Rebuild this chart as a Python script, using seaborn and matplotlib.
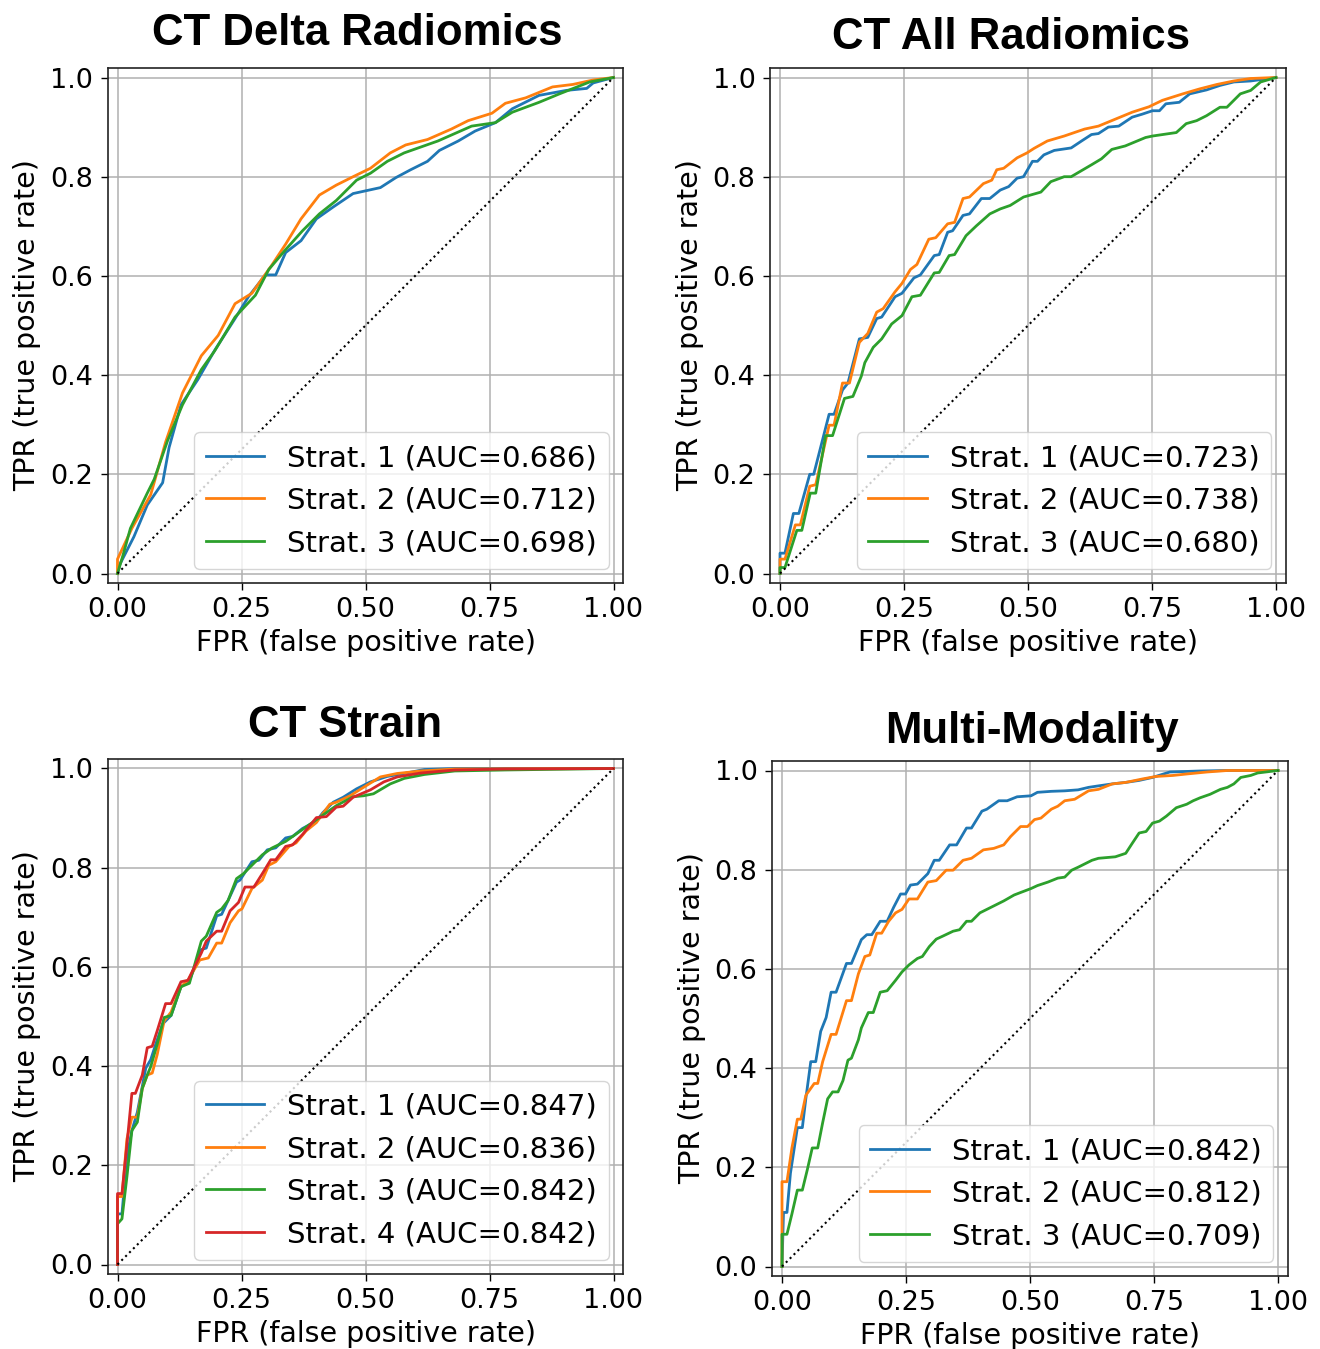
import numpy as np
import pandas as pd
import matplotlib
matplotlib.use('Agg')
import matplotlib.pyplot as plt
import seaborn as sns

# ---- data ----
delta_fpr_1 = [0, .005, .033, .060, .091, .104, .128, .162, .196, .237, .264, .298, .319, .339, .370, .401, .435, .475, .530, .561, .591, .625, .649, .687, .721, .762, .796, .850, .905, .946, .959, 1]
delta_tpr_1 = [0, .019, .074, .138, .183, .254, .340, .391, .450, .514, .558, .602, .602, .647, .671, .715, .739, .766, .778, .798, .814, .831, .853, .872, .892, .909, .937, .964, .974, .978, .989, 1]
delta_fpr_2 = [0, 0, .029, .067, .097, .131, .169, .203, .237, .271, .312, .339, .370, .407, .441, .475, .510, .550, .581, .625, .673, .707, .755, .782, .823, .877, .918, .959, 1]
delta_tpr_2 = [0, .029, .091, .159, .265, .364, .439, .480, .544, .565, .623, .664, .715, .763, .783, .800, .817, .848, .864, .875, .896, .913, .928, .948, .959, .981, .986, .995, 1]
delta_fpr_3 = [0, .012, .026, .060, .074, .101, .131, .169, .196, .237, .278, .305, .339, .373, .407, .441, .482, .510, .544, .578, .646, .714, .762, .796, .850, .891, .952, 1]
delta_tpr_3 = [0, .040, .091, .162, .190, .268, .340, .411, .449, .517, .561, .613, .653, .691, .725, .752, .793, .807, .831, .848, .872, .902, .909, .930, .950, .967, .991, 1]
delta_auc = [0.686, 0.712, 0.698]

all_fpr_1 = [0, 0, .010, .027, .038, .060, .068, .099, .109, .126, .137, .160, .177, .195, .205, .232, .246, .270, .283, .311, .321, .338, .348, .369, .382, .406, .423, .444, .461, .478, .491, .509, .519, .532, .553, .587, .608, .628, .642, .662, .683, .710, .730, .751, .765, .778, .805, .826, .860, .887, .915, .949, 1]
all_tpr_1 = [0, .041, .041, .121, .121, .200, .200, .321, .321, .370, .384, .473, .476, .514, .517, .558, .565, .596, .602, .641, .643, .688, .691, .722, .725, .756, .756, .773, .780, .797, .800, .831, .831, .844, .853, .858, .872, .885, .887, .900, .902, .920, .926, .933, .933, .947, .950, .967, .975, .984, .991, .993, 1]
all_fpr_2 = [0, 0, .010, .031, .041, .060, .072, .099, .109, .126, .140, .160, .177, .195, .208, .232, .246, .263, .276, .300, .314, .338, .352, .369, .382, .410, .427, .437, .451, .478, .498, .512, .539, .573, .614, .642, .676, .710, .744, .771, .812, .846, .881, .915, .949, 1]
all_tpr_2 = [0, .029, .029, .098, .098, .176, .179, .299, .299, .384, .384, .466, .484, .527, .534, .568, .585, .613, .623, .674, .677, .705, .708, .756, .759, .786, .793, .814, .817, .838, .848, .857, .872, .882, .896, .902, .916, .930, .941, .954, .967, .977, .986, .993, .998, 1]
all_fpr_3 = [0, 0, .010, .034, .044, .061, .072, .092, .106, .130, .147, .164, .171, .188, .205, .225, .246, .266, .283, .311, .321, .341, .352, .375, .396, .423, .444, .464, .491, .526, .546, .573, .587, .628, .648, .669, .696, .737, .751, .799, .819, .840, .860, .887, .901, .928, .949, .969, 1]
all_tpr_3 = [0, .012, .012, .087, .087, .162, .162, .278, .278, .353, .357, .398, .425, .456, .473, .503, .520, .558, .561, .606, .607, .641, .643, .681, .701, .725, .735, .742, .759, .769, .790, .800, .800, .824, .836, .855, .862, .879, .882, .889, .907, .913, .923, .940, .940, .967, .974, .991, 1]
all_auc = [0.723, 0.738, 0.680]

strain_fpr_1 = [0, 0, .009, .019, .029, .040, .057, .067, .077, .091, .108, .128, .145, .159, .169, .179, .200, .210, .223, .240, .247, .271, .285, .302, .319, .339, .353, .373, .401, .414, .435, .455, .482, .510, .544, .578, .619, .680, 1]
strain_tpr_1 = [0, .102, .102, .218, .270, .307, .396, .413, .444, .485, .502, .560, .573, .608, .635, .638, .703, .706, .734, .771, .775, .812, .815, .836, .840, .860, .863, .879, .894, .911, .932, .942, .959, .973, .984, .990, .998, 1, 1]
strain_fpr_2 = [0, 0, .009, .019, .029, .040, .050, .060, .070, .080, .094, .108, .128, .142, .166, .183, .200, .210, .227, .244, .251, .271, .292, .305, .319, .346, .360, .380, .401, .428, .441, .469, .496, .530, .564, .612, .680, 1]
strain_tpr_2 = [0, .137, .137, .253, .297, .297, .355, .382, .386, .423, .491, .509, .560, .573, .614, .618, .648, .648, .689, .713, .717, .758, .775, .805, .812, .843, .850, .874, .891, .928, .932, .945, .962, .983, .990, .995, .999, 1]
strain_fpr_3 = [0, 0, .009, .019, .029, .040, .050, .060, .067, .080, .094, .108, .128, .145, .169, .179, .200, .210, .223, .240, .254, .271, .292, .312, .339, .373, .407, .441, .475, .496, .516, .550, .578, .619, .680, .782, 1]
strain_tpr_3 = [0, .082, .092, .177, .270, .287, .355, .382, .399, .444, .498, .502, .560, .567, .652, .662, .710, .717, .734, .778, .788, .805, .826, .840, .853, .877, .901, .925, .943, .945, .949, .969, .980, .988, .995, .997, 1]
strain_fpr_4 = [0, 0, .009, .019, .029, .036, .050, .060, .070, .080, .097, .108, .128, .142, .169, .179, .200, .210, .227, .244, .257, .275, .292, .309, .319, .339, .353, .373, .401, .421, .441, .455, .475, .510, .537, .564, .612, .680, .782, 1]
strain_tpr_4 = [0, .143, .143, .242, .345, .345, .382, .437, .440, .471, .526, .526, .570, .573, .628, .652, .672, .672, .713, .730, .761, .761, .788, .816, .816, .843, .846, .867, .901, .903, .922, .924, .942, .957, .973, .983, .991, .997, .999, 1]
strain_auc = [0.847, 0.836, 0.842, 0.842]

multi_fpr_1 = [0, .003, .010, .017, .031, .041, .048, .058, .068, .078, .089, .099, .109, .130, .140, .160, .171, .181, .198, .212, .225, .239, .249, .259, .273, .294, .307, .317, .338, .352, .372, .382, .403, .413, .437, .454, .474, .502, .515, .543, .570, .597, .618, .638, .666, .693, .720, .747, .782, .843, .898, 1]
multi_tpr_1 = [0, .109, .109, .188, .280, .280, .338, .413, .413, .474, .502, .553, .553, .611, .611, .659, .669, .669, .696, .696, .724, .751, .751, .769, .771, .792, .819, .819, .850, .850, .884, .884, .918, .922, .939, .939, .947, .949, .956, .958, .959, .961, .966, .969, .973, .976, .980, .986, .997, .999, 1, 1]
multi_fpr_2 = [0, 0, .010, .020, .031, .038, .048, .065, .072, .082, .099, .109, .130, .140, .154, .167, .177, .191, .201, .215, .229, .242, .256, .273, .294, .311, .331, .345, .365, .382, .406, .427, .447, .461, .481, .495, .509, .522, .543, .556, .570, .590, .618, .638, .666, .693, .727, .754, .788, .816, .857, .898, 1]
multi_tpr_2 = [0, .171, .171, .239, .297, .297, .345, .369, .369, .413, .468, .468, .536, .536, .590, .625, .628, .672, .672, .696, .713, .720, .741, .741, .775, .778, .799, .799, .819, .823, .840, .843, .850, .867, .887, .887, .901, .904, .922, .928, .939, .942, .959, .962, .973, .976, .983, .988, .990, .993, .997, 1, 1]
multi_fpr_3 = [0, 0, .010, .020, .031, .041, .051, .061, .072, .082, .092, .102, .113, .123, .133, .140, .154, .160, .174, .184, .198, .212, .229, .242, .256, .273, .283, .297, .311, .324, .345, .358, .372, .382, .399, .413, .433, .447, .468, .481, .502, .515, .536, .556, .570, .584, .597, .625, .638, .672, .693, .706, .720, .734, .747, .761, .775, .795, .816, .829, .843, .863, .884, .898, .911, .925, .945, .959, 1]
multi_tpr_3 = [0, .065, .065, .106, .154, .154, .195, .239, .239, .290, .338, .352, .352, .375, .416, .420, .457, .481, .512, .512, .553, .556, .577, .594, .608, .621, .625, .645, .660, .666, .676, .679, .696, .696, .713, .720, .730, .737, .749, .754, .762, .768, .775, .783, .785, .799, .805, .819, .823, .826, .833, .853, .874, .877, .894, .898, .908, .925, .932, .939, .945, .952, .962, .966, .973, .986, .990, .995, 1]
multi_auc = [0.842, 0.812, 0.709]

chance = [0, 1]
x_ticks = [0, 0.25, 0.5, 0.75, 1.0]
x_tick_labels = ['0.00', '0.25', '0.50', '0.75', '1.00']
y_ticks = [0, 0.2, 0.4, 0.6, 0.8, 1.0]
y_tick_labels = ['0.0', '0.2', '0.4', '0.6', '0.8', '1.0']

W, H = 1320, 1349
UNIT = 496  # pixels per data unit
colors = sns.color_palette('tab10', 4)

plt.rcParams['font.family'] = ['DejaVu Sans']


# function to draw one ROC panel; x0/ytop are pixel positions of (0, 1)
def draw_roc(fig, title, curves, aucs, x0, ytop, title_x, title_base):
    pad = 0.02 * UNIT
    size = 1.04 * UNIT
    ax = fig.add_axes([(x0 - pad) / W, 1 - (ytop - pad + size) / H, size / W, size / H])

    for i, (fpr, tpr) in enumerate(curves):
        df = pd.DataFrame({'fpr': fpr, 'tpr': tpr})
        sns.lineplot(data=df, x='fpr', y='tpr', ax=ax, color=colors[i], lw=2,
                     sort=False, estimator=None,
                     label=f'Strat. {i + 1} (AUC={aucs[i]:.3f})')
    ax.plot(chance, chance, 'k:', lw=1.5)

    ax.set_xlim(-0.02, 1.02)
    ax.set_ylim(-0.02, 1.02)
    ax.set_xticks(x_ticks)
    ax.set_xticklabels(x_tick_labels)
    ax.set_yticks(y_ticks)
    ax.set_yticklabels(y_tick_labels)
    ax.tick_params(labelsize=19.5, length=5, width=1)
    ax.tick_params(axis='x', pad=4.5)
    ax.tick_params(axis='y', pad=5.5)
    ax.grid(True, color='#b0b0b0', lw=1.1)
    ax.set_axisbelow(True)
    for s in ax.spines.values():
        s.set_color('#222222')
        s.set_linewidth(1.2)

    ax.set_xlabel('FPR (false positive rate)', fontsize=20.5, va='center')
    ax.xaxis.set_label_coords(0.5, -0.115)
    ax.set_ylabel('TPR (true positive rate)', fontsize=20.5, va='center')
    ax.yaxis.set_label_coords(-0.155, 0.5)

    ax.legend(loc='lower right', fontsize=21, labelspacing=0.5, handlelength=2.0,
              borderaxespad=0.5)

    fig.text(title_x / W, 1 - title_base / H, title, ha='center', va='baseline',
             fontsize=31.5, fontweight='bold', family=['Liberation Sans', 'DejaVu Sans'])
    return ax


fig = plt.figure(figsize=(W / 100, H / 100), dpi=100)

draw_roc(fig, 'CT Delta Radiomics',
         [(delta_fpr_1, delta_tpr_1), (delta_fpr_2, delta_tpr_2), (delta_fpr_3, delta_tpr_3)],
         delta_auc, 117.5, 77.5, 357, 45)
draw_roc(fig, 'CT All Radiomics',
         [(all_fpr_1, all_tpr_1), (all_fpr_2, all_tpr_2), (all_fpr_3, all_tpr_3)],
         all_auc, 780, 77.5, 1011, 49)
draw_roc(fig, 'CT Strain',
         [(strain_fpr_1, strain_tpr_1), (strain_fpr_2, strain_tpr_2),
          (strain_fpr_3, strain_tpr_3), (strain_fpr_4, strain_tpr_4)],
         strain_auc, 117.5, 768.5, 345, 737)
draw_roc(fig, 'Multi-Modality',
         [(multi_fpr_1, multi_tpr_1), (multi_fpr_2, multi_tpr_2), (multi_fpr_3, multi_tpr_3)],
         multi_auc, 782, 770.5, 1032, 743)

fig.savefig('out.png', dpi=100)
